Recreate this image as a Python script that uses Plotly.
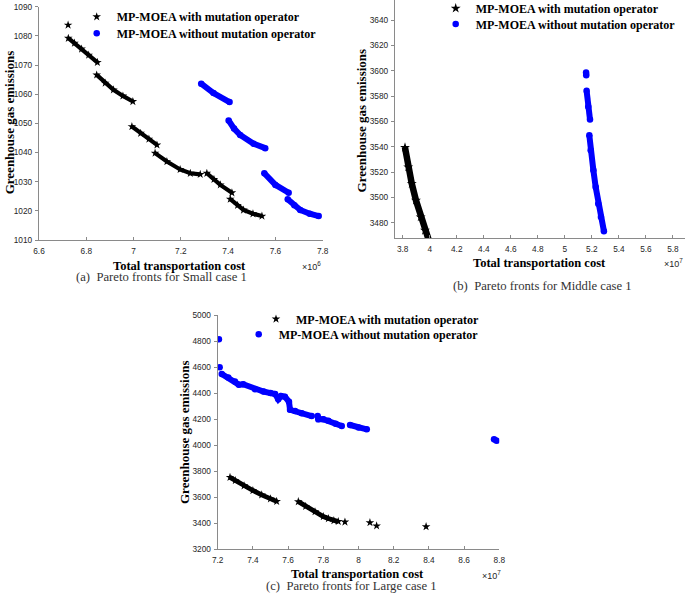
import plotly.graph_objects as go

# values; cost in units of the axis multiplier, None = gap
small_with_cost = [6.723, None,
                   6.724, 6.75, 6.78, 6.81, 6.847, None,
                   6.844, 6.88, 6.915, 6.955, 6.997, None,
                   6.993, 7.03, 7.065, 7.099, None,
                   7.091, 7.141, 7.197, 7.240, 7.282, None,
                   7.310, 7.340, 7.367, 7.416, None,
                   7.409, 7.440, 7.465, 7.505, 7.543]
small_with_ghg = [1083.7, None,
                  1079.2, 1077.5, 1075.5, 1073.4, 1070.9, None,
                  1066.6, 1063.8, 1061.5, 1059.4, 1057.5, None,
                  1048.9, 1046.6, 1044.6, 1042.6, None,
                  1039.8, 1036.9, 1034.2, 1032.9, 1032.5, None,
                  1032.9, 1030.8, 1028.9, 1026.2, None,
                  1024.0, 1021.9, 1020.3, 1019.0, 1018.2]
small_without_cost = [7.286, 7.338, 7.406, None,
                      7.402, 7.425, 7.451, 7.508, 7.557, None,
                      7.553, 7.600, 7.656, None,
                      7.652, 7.680, 7.705, 7.745, 7.783]
small_without_ghg = [1063.6, 1060.4, 1057.3, None,
                     1051.0, 1048.2, 1046.0, 1043.0, 1041.5, None,
                     1032.9, 1028.9, 1026.2, None,
                     1024.0, 1021.9, 1020.3, 1019.0, 1018.2]

middle_with_cost = [3.817, 3.841, 3.867, 3.898, 3.933, 3.965, 4.0]
middle_with_ghg = [3539.4, 3524.0, 3510.9, 3497.7, 3484.5, 3474.0, 3464.0]
middle_without_cost = [5.157, 5.158, None,
                       5.161, 5.173, 5.186, None,
                       5.181, 5.191, 5.211, 5.228, 5.247, 5.267, 5.289]
middle_without_ghg = [3598.5, 3596.5, None,
                      3584.1, 3571.5, 3561.5, None,
                      3549.1, 3537.2, 3521.4, 3508.2, 3495.1, 3484.5, 3473.4]

large_with_cost = [7.270, 7.30, 7.35, 7.40, 7.45, 7.50, 7.535, None,
                   7.658, 7.70, 7.753, 7.80, 7.829, 7.86, 7.885, None,
                   7.923, None, 8.065, None, 8.103, None, 8.384]
large_with_ghg = [3753, 3728, 3688, 3652, 3618, 3588, 3568, None,
                  3566, 3530, 3489, 3452, 3436, 3420, 3414, None,
                  3410, None, 3405, None, 3380, None, 3374]
large_without_cost = [7.207, None, 7.211, None,
                      7.223, 7.26, 7.298, 7.32, 7.345, 7.412, 7.46, 7.50, 7.526,
                      7.544, 7.56, 7.582, 7.605, 7.611, 7.64, 7.677, 7.734, None,
                      7.768, 7.772, 7.80, 7.829, 7.87, 7.905, None,
                      7.952, 8.00, 8.047, None,
                      8.770, 8.785]
large_without_ghg = [4813, None, 4598, None,
                     4547, 4520, 4490, 4465, 4468, 4429, 4412, 4400, 4393,
                     4353, 4378, 4372, 4334, 4272, 4262, 4245, 4224, None,
                     4224, 4200, 4200, 4188, 4165, 4147, None,
                     4155, 4136, 4122, None,
                     4045, 4034]

label_with = 'MP-MOEA with mutation operator'
label_without = 'MP-MOEA without mutation operator'

W, H = 685, 606
serif = 'Liberation Serif'
sans = 'Liberation Sans'
axis_grey = '#8a8a8a'
text_grey = '#262626'


def px_x(p):
    return p / W


def px_y(p):
    return 1 - p / H


fig = go.Figure()


def add_series(cost, ghg, xa, ya, name, legend, color, symbol, msize, lwidth):
    fig.add_trace(go.Scatter(x=cost, y=ghg, mode='lines', xaxis=xa, yaxis=ya,
                             line=dict(color=color, width=lwidth),
                             showlegend=False, hoverinfo='skip', cliponaxis=True))
    fig.add_trace(go.Scatter(x=cost, y=ghg, mode='markers', xaxis=xa, yaxis=ya,
                             marker=dict(symbol=symbol, size=msize, color=color,
                                         line_width=0),
                             name=name, legend=legend))


add_series(small_with_cost, small_with_ghg, 'x', 'y', label_with, 'legend',
           'black', 'star', 6.5, 4.2)
add_series(small_without_cost, small_without_ghg, 'x', 'y', label_without, 'legend2',
           '#0000ff', 'circle', 6.5, 6)
add_series(middle_with_cost, middle_with_ghg, 'x2', 'y2', label_with, 'legend3',
           'black', 'star', 7.5, 6.5)
add_series(middle_without_cost, middle_without_ghg, 'x2', 'y2', label_without, 'legend4',
           '#0000ff', 'circle', 6.5, 6)
add_series(large_with_cost, large_with_ghg, 'x3', 'y3', label_with, 'legend5',
           'black', 'star', 6.5, 4.8)
add_series(large_without_cost, large_without_ghg, 'x3', 'y3', label_without, 'legend6',
           '#0000ff', 'circle', 6.5, 6)


def axis_style(**kw):
    d = dict(showline=True, linecolor=axis_grey, linewidth=1.3, mirror=False,
             ticks='inside', ticklen=3, tickcolor=axis_grey, tickwidth=1,
             showgrid=False, zeroline=False, ticklabelstandoff=3,
             tickfont=dict(family=sans, size=8.3, color=text_grey))
    d.update(kw)
    return d


def ticks(lo, hi, step):
    vals, v = [], lo
    while v <= hi + 1e-9:
        vals.append(round(v, 4))
        v += step
    return vals


def tick_text(vals):
    return [('%g' % v) for v in vals]


xa_vals = ticks(6.6, 7.8, 0.2)
ya_vals = ticks(1010, 1090, 10)
xb_vals = ticks(3.8, 5.8, 0.2)
yb_vals = ticks(3480, 3640, 20)
xc_vals = ticks(7.2, 8.8, 0.2)
yc_vals = ticks(3200, 5000, 200)

# y ticks stick out to the left in the figure, x ticks point inwards
ystyle = dict(ticks='outside', ticklabelstandoff=1)

fig.update_layout(
    width=W, height=H,
    margin=dict(l=0, r=0, t=0, b=0, autoexpand=False),
    paper_bgcolor='white', plot_bgcolor='white',
    xaxis=axis_style(domain=[px_x(39), px_x(322.7)], range=[6.6, 7.8], anchor='y',
                     tickvals=xa_vals, ticktext=tick_text(xa_vals)),
    yaxis=axis_style(domain=[px_y(240), px_y(6.7)], range=[1010, 1090], anchor='x',
                     tickvals=ya_vals, ticktext=tick_text(ya_vals), **ystyle),
    xaxis2=axis_style(domain=[px_x(395), 1.0], range=[3.743, 5.889], anchor='y2',
                      tickvals=xb_vals, ticktext=tick_text(xb_vals)),
    yaxis2=axis_style(domain=[px_y(238), 1.0], range=[3468, 3655.8], anchor='x2',
                      tickvals=yb_vals, ticktext=tick_text(yb_vals), **ystyle),
    xaxis3=axis_style(domain=[px_x(217.7), px_x(499.3)], range=[7.2, 8.8], anchor='y3',
                      tickvals=xc_vals, ticktext=tick_text(xc_vals)),
    yaxis3=axis_style(domain=[px_y(549.3), px_y(315)], range=[3200, 5000], anchor='x3',
                      tickvals=yc_vals, ticktext=tick_text(yc_vals), **ystyle),
)

# one legend per row so each row sits where it does in the figure
legend_rows = {
    'legend': (116.7, 16.7), 'legend2': (116.7, 33.3),
    'legend3': (475.7, 8.3), 'legend4': (475.7, 24.0),
    'legend5': (296.0, 319.0), 'legend6': (278.7, 334.3),
}
for key, (tx, ty) in legend_rows.items():
    fig.update_layout({key: dict(x=px_x(tx - 40), y=px_y(ty), xanchor='left', yanchor='middle',
                                 bgcolor='rgba(0,0,0,0)', borderwidth=0,
                                 font=dict(family=serif, size=12, color='black', weight='bold'))})

annots = []
# x titles
for cx, cy in [(179.7, 265.7), (539.3, 263.3), (357.8, 574)]:
    annots.append(dict(x=px_x(cx), y=px_y(cy), text='Total transportation cost',
                       font=dict(family=serif, size=12.5, color='black', weight='bold')))
# y titles
for cx, cy in [(9.3, 122), (361.7, 120.7), (184, 432)]:
    annots.append(dict(x=px_x(cx), y=px_y(cy), text='Greenhouse gas emissions', textangle=-90,
                       font=dict(family=serif, size=13, color='black', weight='bold')))
# exponent labels
for cx, cy, e in [(311.7, 265.7, 6), (673.3, 263.3, 7), (491.7, 575, 7)]:
    annots.append(dict(x=px_x(cx), y=px_y(cy), text='\u00d710<sup>%d</sup>' % e,
                       font=dict(family=sans, size=9, color=text_grey)))
# captions
for cx, cy, t in [(161.3, 276.7, '(a)\u00a0 Pareto fronts for Small case 1'),
                  (542.3, 286, '(b)\u00a0 Pareto fronts for Middle case 1'),
                  (351.7, 586, '(c)\u00a0 Pareto fronts for Large case 1')]:
    annots.append(dict(x=px_x(cx), y=px_y(cy), text=t,
                       font=dict(family=serif, size=12.7, color='#333333')))

for a in annots:
    a.update(xref='paper', yref='paper', showarrow=False, xanchor='center', yanchor='middle')
fig.update_layout(annotations=annots)

# the page's default body margin would push the figure 8px off the window
fig.write_html("out.html", config={'displayModeBar': False},
               post_script="document.body.style.margin = '0';")
